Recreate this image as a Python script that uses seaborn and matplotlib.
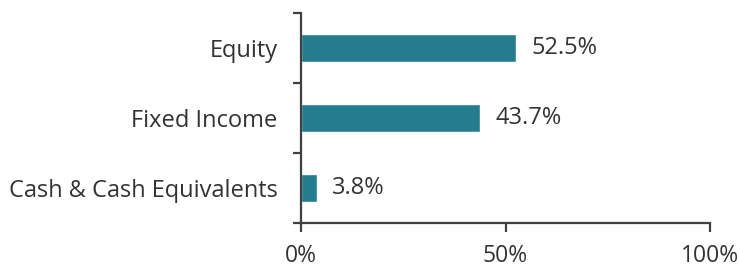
import matplotlib
matplotlib.use("Agg")
import matplotlib.pyplot as plt
import seaborn as sns
import pandas as pd

# data
categories = ["Equity", "Fixed Income", "Cash & Cash Equivalents"]
values = [52.5, 43.7, 3.8]
value_labels = ["52.5%", "43.7%", "3.8%"]
x_ticks = [0, 50, 100]
x_ticklabels = ["0%", "50%", "100%"]

df = pd.DataFrame({"category": categories, "value": values})

sns.set_style("white")
plt.rcParams["font.family"] = ["Open Sans", "DejaVu Sans"]

fig = plt.figure(figsize=(7.4, 2.71), dpi=100)
ax = fig.add_axes([0.4068, 0.1771, 0.5527, 0.7749])

sns.barplot(data=df, x="value", y="category", color="#267c8f",
            saturation=1, width=0.4, ax=ax)

for i, (v, lab) in enumerate(zip(values, value_labels)):
    ax.annotate(lab, xy=(v, i), xytext=(11, 0), textcoords="offset points",
                va="center", ha="left", fontsize=17, color="#333333")

ax.set_xlim(0, 100)
ax.set_ylim(2.5, -0.5)
ax.set_xticks(x_ticks)
ax.set_xticklabels(x_ticklabels)
ax.set_yticks([-0.5, 0.5, 1.5, 2.5], minor=True)
ax.set_xlabel("")
ax.set_ylabel("")

for side in ["top", "right"]:
    ax.spines[side].set_visible(False)
for side in ["left", "bottom"]:
    ax.spines[side].set_color("#404040")
    ax.spines[side].set_linewidth(1.6)

ax.tick_params(axis="y", which="major", length=0, pad=17, labelsize=17,
               labelcolor="#333333")
ax.tick_params(axis="y", which="minor", left=True, length=6, width=1.6,
               color="#404040")
ax.tick_params(axis="x", which="major", bottom=True, length=6.5, width=1.6,
               color="#404040", pad=8.5, labelsize=16.5, labelcolor="#333333")

fig.savefig("out.png", dpi=100)
